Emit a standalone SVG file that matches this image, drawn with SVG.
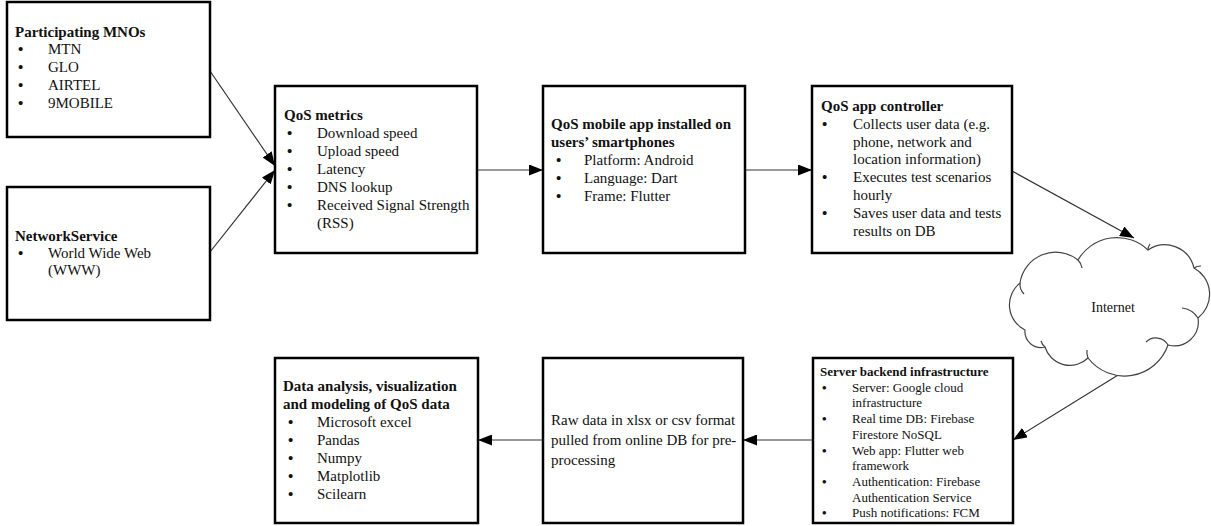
<svg xmlns="http://www.w3.org/2000/svg" width="1211" height="526" viewBox="0 0 1211 526">
<style>
.box{fill:#fff;stroke:#000;stroke-width:2.5}
text{font-family:"Liberation Serif","Times New Roman",serif;font-size:15px;fill:#111}
.t{font-weight:bold}
.b{font-weight:bold}
.s{font-size:13px}
.c{fill:none;stroke:#333;stroke-width:1.2}
.cloud{fill:#fff;stroke:#444;stroke-width:1.2}
.curl{fill:none;stroke:#444;stroke-width:1.2}
</style>
<defs>
<marker id="ah" markerUnits="userSpaceOnUse" markerWidth="15" markerHeight="11" refX="14" refY="5.5" orient="auto">
<path d="M0,0 L14,5.5 L0,11 Z" fill="#000"/>
</marker>
</defs>
<rect width="1211" height="526" fill="#fff"/>

<g id="connectors">
<line class="c" x1="210" y1="71" x2="275" y2="166" marker-end="url(#ah)"/>
<line class="c" x1="210" y1="252" x2="275" y2="170" marker-end="url(#ah)"/>
<line class="c" x1="477" y1="170" x2="543" y2="170" marker-end="url(#ah)"/>
<line class="c" x1="745" y1="170" x2="812" y2="170" marker-end="url(#ah)"/>
<line class="c" x1="1012" y1="171" x2="1134" y2="238" marker-end="url(#ah)"/>
<line class="c" x1="1123" y1="372" x2="1013" y2="440" marker-end="url(#ah)"/>
<line class="c" x1="813" y1="440" x2="743" y2="440" marker-end="url(#ah)"/>
<line class="c" x1="543" y1="440" x2="478" y2="440" marker-end="url(#ah)"/>
</g>

<g id="mnos">
<rect class="box" x="7" y="2" width="203" height="135"/>
<text class="t" x="15" y="37">Participating MNOs</text>
<text class="b" x="18" y="54">•</text><text x="48" y="54">MTN</text>
<text class="b" x="18" y="72">•</text><text x="48" y="72">GLO</text>
<text class="b" x="18" y="90">•</text><text x="48" y="90">AIRTEL</text>
<text class="b" x="18" y="108">•</text><text x="48" y="108">9MOBILE</text>
</g>

<g id="network-service">
<rect class="box" x="7" y="187" width="203" height="133"/>
<text class="t" x="15" y="241">NetworkService</text>
<text class="b" x="18" y="258">•</text><text x="48" y="258">World Wide Web</text>
<text x="48" y="275">(WWW)</text>
</g>

<g id="qos-metrics">
<rect class="box" x="275" y="86" width="202" height="167"/>
<text class="t" x="284" y="120">QoS metrics</text>
<text class="b" x="287" y="138">•</text><text x="317" y="138">Download speed</text>
<text class="b" x="287" y="156">•</text><text x="317" y="156">Upload speed</text>
<text class="b" x="287" y="174">•</text><text x="317" y="174">Latency</text>
<text class="b" x="287" y="192">•</text><text x="317" y="192">DNS lookup</text>
<text class="b" x="287" y="210">•</text><text x="317" y="210">Received Signal Strength</text>
<text x="317" y="228">(RSS)</text>
</g>

<g id="mobile-app">
<rect class="box" x="543" y="86" width="202" height="167"/>
<text class="t" x="551" y="129">QoS mobile app installed on</text>
<text class="t" x="551" y="147">users’ smartphones</text>
<text class="b" x="556" y="165">•</text><text x="584" y="165">Platform: Android</text>
<text class="b" x="556" y="183">•</text><text x="584" y="183">Language: Dart</text>
<text class="b" x="556" y="201">•</text><text x="584" y="201">Frame: Flutter</text>
</g>

<g id="app-controller">
<rect class="box" x="812" y="86" width="200" height="167"/>
<text class="t" x="821" y="111">QoS app controller</text>
<text class="b" x="822" y="129">•</text><text x="853" y="129">Collects user data (e.g.</text>
<text x="853" y="147">phone, network and</text>
<text x="853" y="164">location information)</text>
<text class="b" x="822" y="182">•</text><text x="853" y="182">Executes test scenarios</text>
<text x="853" y="200">hourly</text>
<text class="b" x="822" y="218">•</text><text x="853" y="218">Saves user data and tests</text>
<text x="853" y="236">results on DB</text>
</g>

<g id="internet">
<path class="cloud" d="M1025,330 A28,28 0 0 1 1020,283 A36,36 0 0 1 1078,260 A45,45 0 0 1 1148,250 A30,30 0 0 1 1194,268 A30,30 0 0 1 1198,318 A24,24 0 0 1 1168,345 A46,46 0 0 1 1088,358 A26,26 0 0 1 1045,347 A16,16 0 0 1 1025,330 Z"/>
<path class="curl" d="M1078,260 a14,14 0 0 1 4,8"/>
<path class="curl" d="M1148,250 a10,10 0 0 1 2,-6"/>
<path class="curl" d="M1194,268 a12,12 0 0 1 7,-2"/>
<path class="curl" d="M1198,318 a22,22 0 0 0 -16,-10"/>
<path class="curl" d="M1168,345 a14,14 0 0 0 -22,-3"/>
<path class="curl" d="M1088,358 a16,16 0 0 1 -1,-8"/>
<path class="curl" d="M1045,347 a12,12 0 0 1 -4,-6"/>
<path class="curl" d="M1020,283 a14,14 0 0 0 4,11"/>
<text x="1113" y="312" text-anchor="middle" style="font-size:14px">Internet</text>
</g>

<g id="server-backend">
<rect class="box" x="813" y="358" width="200" height="165"/>
<text class="t s" x="820" y="376">Server backend infrastructure</text>
<text class="s b" x="822" y="392">•</text><text class="s" x="852" y="392">Server: Google cloud</text>
<text class="s" x="852" y="407">infrastructure</text>
<text class="s b" x="822" y="423">•</text><text class="s" x="852" y="423">Real time DB: Firebase</text>
<text class="s" x="852" y="439">Firestore NoSQL</text>
<text class="s b" x="822" y="455">•</text><text class="s" x="852" y="455">Web app: Flutter web</text>
<text class="s" x="852" y="470">framework</text>
<text class="s b" x="822" y="486">•</text><text class="s" x="852" y="486">Authentication: Firebase</text>
<text class="s" x="852" y="502">Authentication Service</text>
<text class="s b" x="822" y="517">•</text><text class="s" x="852" y="517">Push notifications: FCM</text>
</g>

<g id="raw-data">
<rect class="box" x="543" y="358" width="200" height="165"/>
<text x="551" y="425">Raw data in xlsx or csv format</text>
<text x="551" y="445">pulled from online DB for pre-</text>
<text x="551" y="465">processing</text>
</g>

<g id="data-analysis">
<rect class="box" x="275" y="358" width="203" height="165"/>
<text class="t" x="283" y="391">Data analysis, visualization</text>
<text class="t" x="283" y="409">and modeling of QoS data</text>
<text class="b" x="288" y="427">•</text><text x="317" y="427">Microsoft excel</text>
<text class="b" x="288" y="445">•</text><text x="317" y="445">Pandas</text>
<text class="b" x="288" y="463">•</text><text x="317" y="463">Numpy</text>
<text class="b" x="288" y="481">•</text><text x="317" y="481">Matplotlib</text>
<text class="b" x="288" y="499">•</text><text x="317" y="499">Scilearn</text>
</g>
</svg>
